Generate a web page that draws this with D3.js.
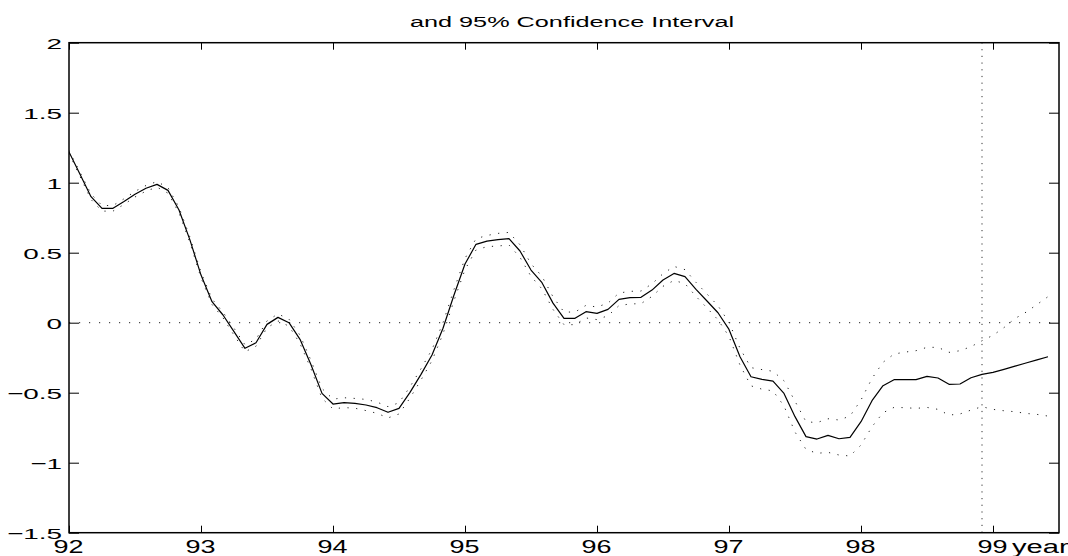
<!DOCTYPE html>
<html><head><meta charset="utf-8">
<script src="https://cdn.jsdelivr.net/npm/d3@7"></script>
<style>
body{margin:0;background:#fff}
text{font-family:"Liberation Sans",Arial,Helvetica,sans-serif;fill:#000}
</style>
</head><body>
<svg id="c" width="1068" height="556"></svg>
<script>
// ---- data (monthly, starting Jan 1992) ----
const startYear = 92;
const estimate = [1.22,1.06,0.90,0.817,0.817,0.865,0.918,0.96,0.988,0.945,
0.805,0.59,0.34,0.15,0.055,-0.064,-0.183,-0.143,-0.012,0.038,
0.0,-0.119,-0.30,-0.505,-0.581,-0.571,-0.576,-0.588,-0.607,-0.640,
-0.612,-0.498,-0.369,-0.231,-0.040,0.198,0.419,0.560,0.583,0.593,
0.600,0.512,0.376,0.286,0.140,0.031,0.031,0.079,0.067,0.095,
0.167,0.179,0.181,0.233,0.305,0.352,0.329,0.238,0.155,0.071,
-0.048,-0.243,-0.386,-0.405,-0.417,-0.505,-0.671,-0.814,-0.831,-0.805,
-0.829,-0.819,-0.707,-0.557,-0.450,-0.407,-0.407,-0.407,-0.383,-0.395,
-0.440,-0.438,-0.393,-0.369,-0.355,-0.333,-0.310,-0.288,-0.265,-0.243];
const upper = [1.23,1.075,0.92,0.837,0.837,0.885,0.938,0.98,1.008,0.965,
0.825,0.61,0.36,0.17,0.075,-0.039,-0.158,-0.118,0.013,0.063,
0.025,-0.089,-0.27,-0.47,-0.546,-0.536,-0.541,-0.548,-0.567,-0.60,
-0.572,-0.458,-0.329,-0.191,0.0,0.238,0.459,0.60,0.623,0.638,
0.645,0.557,0.421,0.331,0.185,0.076,0.076,0.124,0.112,0.14,
0.212,0.224,0.226,0.278,0.35,0.402,0.379,0.288,0.205,0.121,
0.002,-0.183,-0.321,-0.335,-0.347,-0.415,-0.561,-0.707,-0.714,-0.686,
-0.695,-0.667,-0.552,-0.398,-0.283,-0.224,-0.210,-0.200,-0.176,-0.176,
-0.212,-0.200,-0.171,-0.129,-0.09,-0.035,0.03,0.075,0.13,0.186];
const lower = [1.21,1.045,0.88,0.797,0.797,0.845,0.898,0.94,0.968,0.925,
0.785,0.57,0.32,0.13,0.035,-0.089,-0.208,-0.168,-0.037,0.013,
-0.025,-0.149,-0.33,-0.54,-0.616,-0.606,-0.611,-0.628,-0.647,-0.68,
-0.652,-0.538,-0.409,-0.271,-0.08,0.158,0.379,0.52,0.543,0.548,
0.555,0.467,0.331,0.241,0.095,-0.014,-0.014,0.034,0.022,0.05,
0.122,0.134,0.136,0.188,0.26,0.302,0.279,0.188,0.105,0.021,
-0.098,-0.303,-0.451,-0.475,-0.487,-0.595,-0.781,-0.905,-0.933,-0.926,
-0.945,-0.952,-0.874,-0.743,-0.643,-0.605,-0.607,-0.612,-0.605,-0.619,
-0.660,-0.652,-0.624,-0.600,-0.619,-0.629,-0.636,-0.648,-0.655,-0.667];
const xTicks = [92,93,94,95,96,97,98,99];
const xTickLabels = ["92","93","94","95","96","97","98","99"];
const yTicks = [-1.5,-1,-0.5,0,0.5,1,1.5,2];
const yTickLabels = ["\u22121.5","\u22121","\u22120.5","0","0.5","1","1.5","2"];
const xDomain = [92, 99.5];
const yDomain = [-1.5, 2];
const forecastStart = 98 + 11/12;
const titleText = "and 95% Confidence Interval";
const xAxisLabel = "year";

// ---- layout ----
const L = 69, R = 1059, T = 42.7, B = 532.7;
const svg = d3.select("#c");
const x = d3.scaleLinear().domain(xDomain).range([L, R]);
const y = d3.scaleLinear().domain(yDomain).range([B, T]);
const t = i => startYear + i / 12;

svg.append("defs").append("clipPath").attr("id","clip")
  .append("rect").attr("x",L).attr("y",T).attr("width",R-L).attr("height",B-T);
const plot = svg.append("g").attr("clip-path","url(#clip)");

// zero reference line
plot.append("line").attr("x1",x(xDomain[0])).attr("x2",x(xDomain[1]))
  .attr("y1",y(0)).attr("y2",y(0))
  .attr("stroke","#222").attr("stroke-width",1).attr("stroke-dasharray","1.2,8.8");
// forecast start line
plot.append("line").attr("x1",x(forecastStart)).attr("x2",x(forecastStart))
  .attr("y1",y(yDomain[0])).attr("y2",y(yDomain[1]))
  .attr("stroke","#333").attr("stroke-width",1).attr("stroke-dasharray","1.2,5.5");

const line = d3.line().x((d,i)=>x(t(i))).y(d=>y(d));
[upper, lower].forEach(s => {
  plot.append("path").attr("d", line(s)).attr("fill","none")
    .attr("stroke","#222").attr("stroke-width",1).attr("stroke-dasharray","1.2,7.5");
});
plot.append("path").attr("d", line(estimate)).attr("fill","none")
  .attr("stroke","#000").attr("stroke-width",1.2).attr("stroke-linejoin","round");

// ---- axes ----
const xsx = 1.5, ysx = 1.8;
const gB = svg.append("g").attr("transform",`translate(0,${B})`)
  .call(d3.axisBottom(x).tickValues(xTicks).tickSize(-7).tickSizeOuter(0)
        .tickFormat((d,i)=>xTickLabels[i]));
const gT = svg.append("g").attr("transform",`translate(0,${T})`)
  .call(d3.axisTop(x).tickValues(xTicks).tickSize(-7).tickSizeOuter(0).tickFormat(""));
const gL = svg.append("g").attr("transform",`translate(${L},0)`)
  .call(d3.axisLeft(y).tickValues(yTicks).tickSize(-10).tickSizeOuter(0)
        .tickFormat((d,i)=>yTickLabels[i]));
const gR = svg.append("g").attr("transform",`translate(${R},0)`)
  .call(d3.axisRight(y).tickValues(yTicks).tickSize(-10).tickSizeOuter(0).tickFormat(""));
[gB,gT,gL,gR].forEach(g=>{
  g.select(".domain").remove();
  g.selectAll("line").attr("stroke","#000").attr("stroke-width",1);
  g.attr("font-family",null).attr("font-size",null);
});
gB.selectAll("text").attr("y",null).attr("dy",null)
  .attr("font-size",18).attr("text-anchor","middle")
  .attr("transform",`translate(-1,20.5) scale(${xsx},1)`);
gL.selectAll("text").attr("x",null).attr("dy","0.36em")
  .attr("font-size",15.5).attr("text-anchor","end")
  .attr("transform",`translate(-7,0) scale(${ysx},1)`);

// box
svg.append("rect").attr("x",L).attr("y",T).attr("width",R-L).attr("height",B-T)
  .attr("fill","none").attr("stroke","#000").attr("stroke-width",1.5);

// x label
svg.append("text").text(xAxisLabel).attr("font-size",18).attr("text-anchor","start")
  .attr("transform",`translate(${x(99)+19},${B+20.5}) scale(1.62,1)`);

// title
svg.append("text").text(titleText).attr("font-size",15.5).attr("text-anchor","middle")
  .attr("transform",`translate(${(L+R)/2+8},27) scale(1.63,1)`);
</script>
</body></html>
